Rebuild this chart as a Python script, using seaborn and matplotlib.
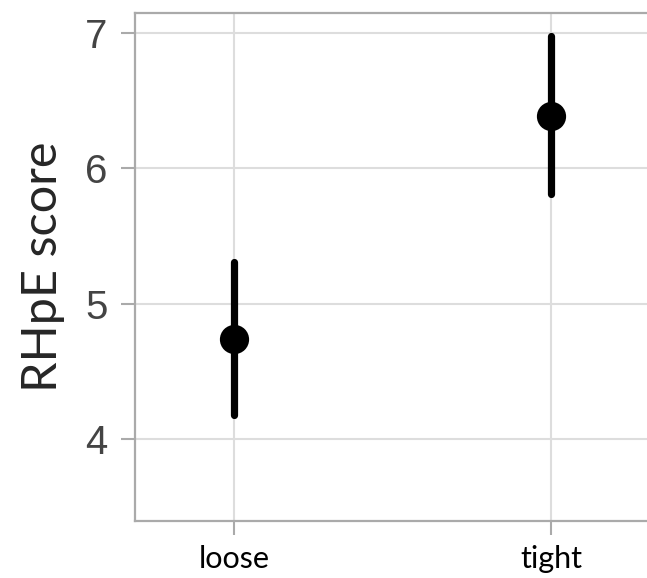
import numpy as np
import pandas as pd
import matplotlib.pyplot as plt
import seaborn as sns

# values
conditions = ["loose", "tight"]
means = [4.74, 6.39]
ci_low = [4.18, 5.81]
ci_high = [5.31, 6.98]

sns.set_style("whitegrid")

# each group: low / mean / high -> median gives the mean, full interval gives the CI
df = pd.DataFrame({
    "condition": [c for c in conditions for _ in range(3)],
    "score": [v for lo, m, hi in zip(ci_low, means, ci_high) for v in (lo, m, hi)],
})

fig = plt.figure(figsize=(6.47, 5.78), dpi=100)
ax = fig.add_axes([0.2087, 0.0986, 0.7913, 0.8789])

sns.pointplot(data=df, x="condition", y="score", order=conditions,
              estimator="median", errorbar=("pi", 100),
              color="black", linestyle="none", markersize=19,
              err_kws={"linewidth": 5.2}, ax=ax)

ax.set_xlim(-0.312, 1.303)
ax.set_ylim(3.394, 7.148)
ax.set_yticks([4, 5, 6, 7])

ax.grid(True, color="#dddddd", linewidth=1.5)
for side in ["left", "bottom", "top"]:
    ax.spines[side].set_visible(True)
    ax.spines[side].set_color("#aaaaaa")
    ax.spines[side].set_linewidth(1.6)
ax.spines["right"].set_visible(False)

ax.tick_params(axis="y", left=True, length=10, width=1.5, color="#aaaaaa", pad=10,
               labelsize=29, labelcolor="#444444")
ax.tick_params(axis="x", bottom=True, length=10, width=1.5, color="#aaaaaa", pad=7,
               labelsize=22, labelcolor="black")
for lab in ax.get_yticklabels():
    lab.set_family("Liberation Sans")
for lab in ax.get_xticklabels():
    lab.set_family("Lato")

ax.set_xlabel("")
ax.set_ylabel("RHpE score", fontsize=35, family="Lato", labelpad=14)

fig.savefig("out.png", dpi=100)
